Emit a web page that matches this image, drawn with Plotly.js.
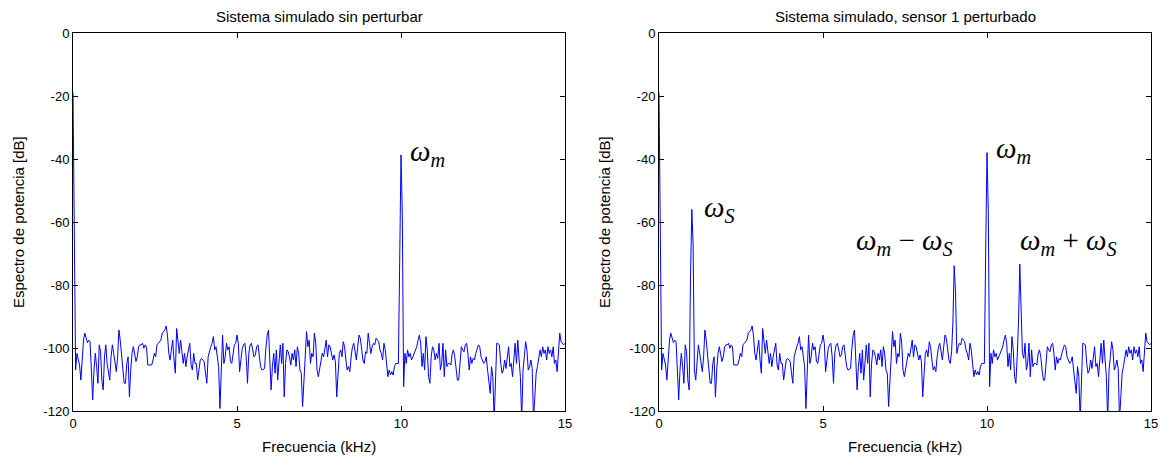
<!DOCTYPE html>
<html>
<head>
<meta charset="utf-8">
<script src="https://cdn.plot.ly/plotly-3.0.1.min.js"></script>
<style>html,body{margin:0;padding:0;background:#fff;}#chart{width:1167px;height:459px;}</style>
</head>
<body>
<div id="chart"></div>
<script>
// Frequency step of the spectrum (kHz) and number of bins
const freqStepKHz = 0.04;
const binCount = 376;

// Noise floor of the simulated spectrum (dB), bin by bin
const noiseDb = [
-19, -61, -107, -101.7, -103.8, -105.4, -110.2, -102.8, -97.5, -95.3,
-96.9, -98.3, -97.5, -98, -107, -116.5, -107, -101.7, -105.9, -111.2,
-99, -101.2, -110.2, -113.3, -102.8, -99, -104.9, -107, -110.2, -102.8,
-99, -101.7, -104.9, -107.5, -102.8, -94.3, -97.5, -102.8, -105.9, -111.2,
-111.2, -104.9, -102.8, -115.5, -107, -101.7, -99.6, -101.7, -104.3, -102.8,
-99.6, -99, -99, -98.5, -100.1, -99, -99.6, -105.4, -105.4, -105.4,
-105.4, -103.8, -101.7, -102.8, -99, -98.5, -98, -97.5, -95.3, -94.8,
-94.3, -93, -95.9, -101.7, -103.8, -100.6, -97.5, -103.8, -108, -93.8,
-97.5, -101.7, -97.5, -100.6, -104.9, -101.7, -105.9, -102.8, -100.6, -98.5,
-105.4, -107, -101.7, -104.9, -104.9, -110.2, -107, -103.8, -103.3, -103.8,
-104.3, -108, -111.2, -102.8, -100.6, -99.6, -98.5, -96.4, -100.6, -99.6,
-102.8, -105.9, -119.2, -108, -95.9, -104.9, -102.8, -98.5, -100.6, -99.6,
-104.3, -104.9, -101.7, -99, -98.5, -95.9, -98.5, -107.5, -103.8, -100.1,
-99, -98.5, -102.8, -111.2, -101.7, -99, -98.5, -100.6, -102.8, -102.2,
-99.6, -99, -101.7, -105.9, -107, -106.8, -106.5, -100.1, -95.9, -94.3,
-103.8, -113.3, -105.9, -101.7, -108, -100.6, -110.2, -102.8, -99, -104.9,
-98.5, -115.5, -104.9, -100.6, -101.2, -102.8, -105.4, -101.7, -103.8, -100.6,
-105.9, -99.6, -101.7, -107, -108, -118.6, -109.1, -102.8, -94.8, -99.6,
-97.5, -104.9, -101.7, -102.8, -95.3, -98.5, -107, -109.1, -106.5, -103.8,
-101.7, -102.8, -99.6, -97.5, -102.8, -99, -99.6, -101.7, -103.8, -102.2,
-104.3, -115.5, -109.1, -101.7, -100.6, -102.8, -98, -99.6, -103.8, -107,
-105.9, -107.5, -102.8, -99.6, -98.5, -100.6, -103.8, -99.6, -95.9, -96.9,
-101.7, -103.8, -104.9, -101.2, -101.7, -95.3, -98.5, -101.7, -99.6, -98.5,
-99, -96.9, -97.5, -98, -100.6, -101.7, -103.8, -98.5, -100.6, -105.9,
-109.1, -107, -108.5, -107.5, -108.6, -105.9, -104.9, -104.9, -104.9, -103,
-102, -104, -112.3, -101.7, -104.9, -100.6, -102.8, -101.7, -103.8, -102.8,
-101.7, -101.2, -99.6, -97.5, -95.9, -98.5, -105.9, -101.7, -107, -96.4,
-100.6, -109.1, -111.2, -102.8, -99.6, -100.6, -103.8, -101.7, -103.3, -98.5,
-107, -104.9, -98.5, -109.1, -100.6, -105.9, -104.9, -104.9, -105.4, -101.7,
-100.6, -102.8, -107, -110.2, -110.2, -104.3, -99.6, -100.6, -101.2, -99,
-98.5, -101.7, -107, -102.8, -104.9, -103.3, -103.8, -101.7, -100.6, -99,
-99.6, -102.8, -103.8, -104.9, -104.3, -102.8, -107, -111.2, -114.4, -105.9,
-109.1, -123, -108, -98.5, -98.7, -99, -104.9, -108, -107, -103.8,
-106.5, -101.7, -99.6, -105.9, -104.9, -109.1, -101.7, -98.5, -104.9, -97.5,
-103.8, -109.1, -123, -107, -102.8, -98, -100.6, -107, -105.9, -103.8,
-106.5, -123, -115.5, -108, -105.9, -103.8, -100.6, -102.8, -99.6, -101.7,
-100.6, -103.8, -99.6, -101.7, -100.6, -102.8, -99.6, -104.9, -103.8, -107.5,
-99.6, -95.3, -98, -98.5, -99, -98.5
];

// Spectral lines (kHz, dB) on top of the noise
const leftPeakFreq = [9.96, 10.00, 10.04];
const leftPeakDb   = [-72.6, -38.7, -57.5];
const rightPeakFreq = [0.96, 1.00, 1.04, 8.96, 9.00, 9.04, 9.96, 10.00, 10.04, 10.96, 11.00, 11.04];
const rightPeakDb   = [-78, -56, -67.3, -92, -73.9, -82, -69, -38, -56.7, -92, -73.4, -88];

const xTickVals = [0, 5, 10, 15];
const xTickText = ['0', '5', '10', '15'];
const yTickVals = [0, -20, -40, -60, -80, -100, -120];
const yTickText = ['0', '-20', '-40', '-60', '-80', '-100', '-120'];

const titles = ['Sistema simulado sin perturbar', 'Sistema simulado, sensor 1 perturbado'];
const xLabel = 'Frecuencia (kHz)';
const yLabel = 'Espectro de potencia [dB]';

// Build series
const freqKHz = [];
for (let i = 0; i < binCount; i++) freqKHz.push(+(i * freqStepKHz).toFixed(2));
function withPeaks(pf, pd) {
  const s = noiseDb.slice();
  pf.forEach((f, k) => { s[Math.round(f / freqStepKHz)] = pd[k]; });
  return s;
}
const leftDb = withPeaks(leftPeakFreq, leftPeakDb);
const rightDb = withPeaks(rightPeakFreq, rightPeakDb);

const lineStyle = {color: '#0000ff', width: 1};
const traces = [
  {x: freqKHz, y: leftDb, type: 'scatter', mode: 'lines', line: lineStyle, xaxis: 'x', yaxis: 'y', hoverinfo: 'skip'},
  {x: freqKHz, y: rightDb, type: 'scatter', mode: 'lines', line: lineStyle, xaxis: 'x2', yaxis: 'y2', hoverinfo: 'skip'}
];

const tickFont = {family: 'Liberation Sans, Arial, sans-serif', size: 13, color: '#000'};
function xAx(domain, anchor) {
  return {domain: domain, anchor: anchor, range: [0, 15], tickvals: xTickVals, ticktext: xTickText,
    ticks: 'inside', ticklen: 5, tickcolor: '#000', mirror: 'ticks', showline: true, linecolor: '#000', linewidth: 1,
    showgrid: false, zeroline: false, tickfont: tickFont, fixedrange: true};
}
function yAx(domain, anchor) {
  return {domain: domain, anchor: anchor, range: [-120, 0], tickvals: yTickVals, ticktext: yTickText,
    ticks: 'inside', ticklen: 5, tickcolor: '#000', mirror: 'ticks', showline: true, linecolor: '#000', linewidth: 1,
    showgrid: false, zeroline: false, tickfont: tickFont, fixedrange: true};
}
const yDom = [48 / 459, 426 / 459];
const xDomL = [73 / 1167, 565 / 1167];
const xDomR = [659 / 1167, 1151 / 1167];

const textFont = {family: 'Liberation Sans, Arial, sans-serif', size: 15, color: '#000'};
const omegaFont = {family: 'Liberation Serif, Times New Roman, serif', size: 29, color: '#000'};
const annotations = [
  {xref: 'paper', yref: 'paper', x: (xDomL[0] + xDomL[1]) / 2, y: 1 - 16 / 459, text: titles[0], showarrow: false, font: textFont, xanchor: 'center', yanchor: 'middle'},
  {xref: 'paper', yref: 'paper', x: (xDomR[0] + xDomR[1]) / 2, y: 1 - 16 / 459, text: titles[1], showarrow: false, font: textFont, xanchor: 'center', yanchor: 'middle'},
  {xref: 'paper', yref: 'paper', x: (xDomL[0] + xDomL[1]) / 2, y: 1 - 446 / 459, text: xLabel, showarrow: false, font: textFont, xanchor: 'center', yanchor: 'middle'},
  {xref: 'paper', yref: 'paper', x: (xDomR[0] + xDomR[1]) / 2, y: 1 - 446 / 459, text: xLabel, showarrow: false, font: textFont, xanchor: 'center', yanchor: 'middle'},
  {xref: 'paper', yref: 'paper', x: 19 / 1167, y: (yDom[0] + yDom[1]) / 2, text: yLabel, textangle: -90, showarrow: false, font: textFont, xanchor: 'center', yanchor: 'middle'},
  {xref: 'paper', yref: 'paper', x: 605 / 1167, y: (yDom[0] + yDom[1]) / 2, text: yLabel, textangle: -90, showarrow: false, font: textFont, xanchor: 'center', yanchor: 'middle'},
  {xref: 'x', yref: 'y', x: 10.2, y: -38, text: '<i>ω<sub>m</sub></i>', showarrow: false, font: omegaFont, xanchor: 'left', yanchor: 'middle'},
  {xref: 'x2', yref: 'y2', x: 1.3, y: -56, text: '<i>ω<sub>S</sub></i>', showarrow: false, font: omegaFont, xanchor: 'left', yanchor: 'middle'},
  {xref: 'x2', yref: 'y2', x: 10.2, y: -37, text: '<i>ω<sub>m</sub></i>', showarrow: false, font: omegaFont, xanchor: 'left', yanchor: 'middle'},
  {xref: 'x2', yref: 'y2', x: 5.95, y: -66.5, text: '<i>ω<sub>m</sub></i> − <i>ω<sub>S</sub></i>', showarrow: false, font: omegaFont, xanchor: 'left', yanchor: 'middle'},
  {xref: 'x2', yref: 'y2', x: 10.95, y: -66.5, text: '<i>ω<sub>m</sub></i> + <i>ω<sub>S</sub></i>', showarrow: false, font: omegaFont, xanchor: 'left', yanchor: 'middle'}
];

const layout = {
  width: 1167, height: 459,
  margin: {l: 0, r: 0, t: 0, b: 0},
  paper_bgcolor: '#fff', plot_bgcolor: '#fff',
  showlegend: false,
  xaxis: xAx(xDomL, 'y'), yaxis: yAx(yDom, 'x'),
  xaxis2: xAx(xDomR, 'y2'), yaxis2: yAx(yDom, 'x2'),
  annotations: annotations
};

Plotly.newPlot('chart', traces, layout, {staticPlot: true, displayModeBar: false});
</script>
</body>
</html>
